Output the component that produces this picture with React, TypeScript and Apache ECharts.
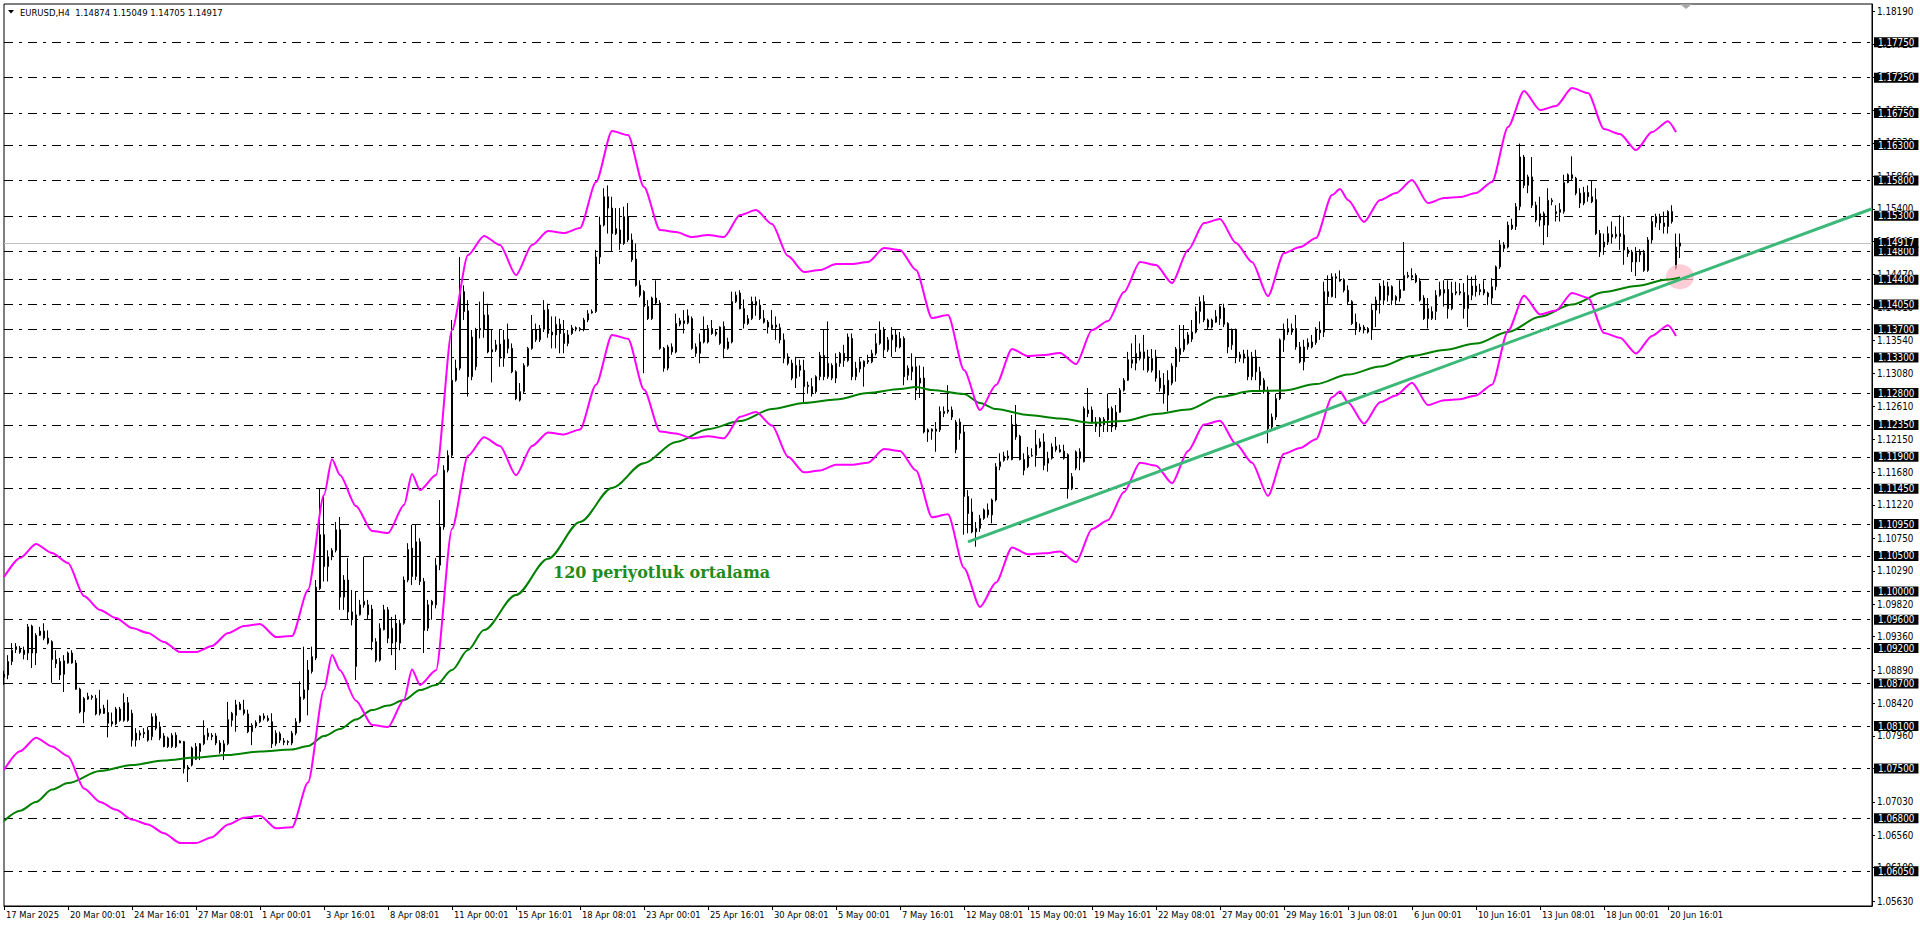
import React, { useEffect, useRef } from "react";
import * as echarts from "echarts";

// ---------- DATA ----------
// H4 candles, each [open, close, low, high], first bar = 17 Mar 2025 08:01
const candles: number[][] = [
  [1.0883,1.0879,1.0868,1.0888],[1.0882,1.0901,1.0876,1.0910],[1.0901,1.0917,1.0896,1.0927],[1.0918,1.0922,1.0913,1.0927],
  [1.0920,1.0914,1.0912,1.0923],[1.0917,1.0911,1.0904,1.0922],[1.0913,1.0950,1.0903,1.0954],[1.0951,1.0913,1.0892,1.0953],[1.0913,1.0938,1.0896,1.0941],[1.0938,1.0944,1.0937,1.0950],
  [1.0944,1.0934,1.0931,1.0955],[1.0934,1.0927,1.0925,1.0945],[1.0929,1.0904,1.0871,1.0931],[1.0904,1.0898,1.0892,1.0917],[1.0901,1.0882,1.0875,1.0906],[1.0883,1.0902,1.0858,1.0910],
  [1.0899,1.0913,1.0898,1.0915],[1.0913,1.0899,1.0898,1.0917],[1.0899,1.0862,1.0861,1.0903],[1.0862,1.0830,1.0828,1.0864],[1.0830,1.0849,1.0814,1.0851],[1.0848,1.0852,1.0847,1.0857],
  [1.0850,1.0852,1.0847,1.0854],[1.0849,1.0827,1.0825,1.0854],[1.0828,1.0834,1.0825,1.0861],[1.0835,1.0828,1.0827,1.0840],[1.0829,1.0814,1.0794,1.0847],[1.0816,1.0813,1.0809,1.0829],
  [1.0813,1.0834,1.0811,1.0837],[1.0834,1.0818,1.0816,1.0837],[1.0818,1.0843,1.0816,1.0856],[1.0843,1.0818,1.0816,1.0851],[1.0828,1.0790,1.0781,1.0833],[1.0790,1.0800,1.0781,1.0807],
  [1.0797,1.0800,1.0790,1.0804],[1.0801,1.0799,1.0793,1.0807],[1.0804,1.0790,1.0788,1.0809],[1.0795,1.0823,1.0790,1.0828],[1.0824,1.0807,1.0804,1.0828],[1.0809,1.0793,1.0790,1.0816],
  [1.0796,1.0781,1.0780,1.0800],[1.0793,1.0781,1.0779,1.0795],[1.0781,1.0797,1.0779,1.0800],[1.0797,1.0781,1.0779,1.0801],[1.0789,1.0786,1.0786,1.0790],[1.0788,1.0750,1.0743,1.0789],
  [1.0752,1.0749,1.0731,1.0755],[1.0755,1.0779,1.0753,1.0781],[1.0763,1.0781,1.0762,1.0786],[1.0774,1.0785,1.0762,1.0786],[1.0785,1.0797,1.0783,1.0818],[1.0795,1.0800,1.0790,1.0807],
  [1.0797,1.0795,1.0790,1.0800],[1.0796,1.0786,1.0783,1.0800],[1.0786,1.0774,1.0771,1.0790],[1.0774,1.0785,1.0762,1.0790],[1.0785,1.0819,1.0783,1.0844],[1.0818,1.0828,1.0809,1.0830],
  [1.0825,1.0840,1.0802,1.0847],[1.0833,1.0841,1.0833,1.0844],[1.0833,1.0828,1.0825,1.0847],[1.0827,1.0802,1.0800,1.0833],[1.0802,1.0811,1.0783,1.0814],[1.0810,1.0815,1.0807,1.0818],
  [1.0816,1.0824,1.0814,1.0825],[1.0824,1.0821,1.0818,1.0828],[1.0821,1.0818,1.0816,1.0825],[1.0816,1.0785,1.0779,1.0828],[1.0785,1.0800,1.0782,1.0804],[1.0799,1.0790,1.0786,1.0802],
  [1.0789,1.0787,1.0783,1.0793],[1.0788,1.0787,1.0783,1.0790],[1.0786,1.0800,1.0783,1.0803],[1.0800,1.0816,1.0797,1.0821],[1.0816,1.0851,1.0814,1.0873],[1.0849,1.0861,1.0847,1.0922],
  [1.0861,1.0889,1.0825,1.0903],[1.0887,1.0908,1.0884,1.0922],[1.0906,1.1006,1.0903,1.1016],[1.1004,1.1080,1.1002,1.1145],[1.1080,1.1035,1.1014,1.1134],[1.1035,1.1049,1.1014,1.1058],
  [1.1049,1.1058,1.1044,1.1061],[1.1058,1.1087,1.1055,1.1098],[1.1087,1.0992,1.0974,1.1105],[1.0992,1.1016,1.0974,1.1023],[1.1016,1.0971,1.0960,1.1047],[1.0971,1.0960,1.0952,1.1002],
  [1.0894,1.0967,1.0875,1.1000],[1.0967,1.0981,1.0966,1.0988],[1.0981,1.0986,1.0977,1.1049],[1.0981,1.0967,1.0960,1.0988],[1.0975,1.0929,1.0917,1.0981],[1.0929,1.0903,1.0900,1.0934],
  [1.0903,1.0948,1.0901,1.0955],[1.0946,1.0974,1.0945,1.0981],[1.0974,1.0934,1.0927,1.0978],[1.0927,1.0948,1.0910,1.0964],[1.0955,1.0929,1.0889,1.0967],[1.0927,1.0955,1.0917,1.0960],
  [1.0955,1.1016,1.0953,1.1021],[1.1016,1.1059,1.1013,1.1068],[1.1061,1.1021,1.1009,1.1094],[1.1021,1.1070,1.1016,1.1094],[1.1070,1.1014,1.1009,1.1075],[1.1014,1.0945,1.0913,1.1019],
  [1.0948,1.0981,1.0944,1.0988],[1.0981,1.0986,1.0960,1.0988],[1.0981,1.1037,1.0976,1.1047],[1.1037,1.1091,1.1030,1.1129],[1.1091,1.1171,1.1087,1.1178],[1.1171,1.1192,1.1168,1.1199],
  [1.1192,1.1298,1.1189,1.1383],[1.1298,1.1315,1.1296,1.1327],[1.1315,1.1423,1.1312,1.1472],[1.1423,1.1395,1.1383,1.1432],[1.1396,1.1303,1.1275,1.1411],[1.1303,1.1359,1.1298,1.1369],
  [1.1317,1.1369,1.1312,1.1372],[1.1369,1.1371,1.1357,1.1409],[1.1370,1.1390,1.1358,1.1423],[1.1390,1.1338,1.1336,1.1406],[1.1341,1.1338,1.1295,1.1369],[1.1341,1.1348,1.1338,1.1355],
  [1.1349,1.1329,1.1317,1.1369],[1.1329,1.1355,1.1317,1.1369],[1.1356,1.1343,1.1336,1.1378],[1.1343,1.1310,1.1308,1.1350],[1.1310,1.1272,1.1270,1.1312],[1.1270,1.1282,1.1268,1.1294],
  [1.1282,1.1319,1.1279,1.1322],[1.1319,1.1343,1.1317,1.1345],[1.1343,1.1369,1.1341,1.1390],[1.1369,1.1355,1.1352,1.1378],[1.1355,1.1371,1.1352,1.1376],[1.1370,1.1397,1.1366,1.1411],
  [1.1398,1.1364,1.1358,1.1406],[1.1366,1.1362,1.1343,1.1388],[1.1362,1.1377,1.1343,1.1388],[1.1377,1.1364,1.1336,1.1385],[1.1364,1.1350,1.1336,1.1383],[1.1350,1.1362,1.1346,1.1369],
  [1.1364,1.1372,1.1362,1.1376],[1.1372,1.1370,1.1367,1.1374],[1.1370,1.1371,1.1367,1.1373],[1.1370,1.1383,1.1367,1.1386],[1.1383,1.1392,1.1380,1.1397],[1.1393,1.1395,1.1392,1.1398],
  [1.1395,1.1472,1.1393,1.1482],[1.1472,1.1517,1.1462,1.1529],[1.1517,1.1557,1.1515,1.1569],[1.1557,1.1541,1.1505,1.1573],[1.1541,1.1505,1.1479,1.1557],[1.1505,1.1512,1.1503,1.1541],
  [1.1510,1.1491,1.1482,1.1541],[1.1491,1.1529,1.1489,1.1543],[1.1529,1.1496,1.1493,1.1548],[1.1496,1.1468,1.1465,1.1505],[1.1469,1.1432,1.1430,1.1491],[1.1432,1.1418,1.1415,1.1439],
  [1.1423,1.1402,1.1308,1.1425],[1.1402,1.1385,1.1383,1.1411],[1.1385,1.1414,1.1383,1.1416],[1.1414,1.1407,1.1404,1.1439],[1.1407,1.1343,1.1341,1.1411],[1.1343,1.1315,1.1310,1.1345],
  [1.1315,1.1345,1.1312,1.1348],[1.1345,1.1338,1.1334,1.1350],[1.1338,1.1378,1.1336,1.1392],[1.1377,1.1382,1.1374,1.1386],[1.1378,1.1382,1.1364,1.1397],[1.1379,1.1389,1.1377,1.1398],
  [1.1385,1.1343,1.1341,1.1388],[1.1345,1.1336,1.1331,1.1350],[1.1336,1.1352,1.1322,1.1364],[1.1352,1.1369,1.1350,1.1388],[1.1352,1.1371,1.1350,1.1376],[1.1371,1.1364,1.1362,1.1383],
  [1.1366,1.1363,1.1360,1.1369],[1.1350,1.1373,1.1348,1.1374],[1.1374,1.1343,1.1329,1.1381],[1.1343,1.1352,1.1341,1.1358],[1.1352,1.1409,1.1350,1.1423],[1.1409,1.1418,1.1407,1.1423],
  [1.1421,1.1399,1.1398,1.1425],[1.1399,1.1378,1.1371,1.1412],[1.1378,1.1385,1.1376,1.1390],[1.1385,1.1409,1.1383,1.1416],[1.1409,1.1404,1.1389,1.1416],[1.1404,1.1385,1.1383,1.1412],
  [1.1385,1.1380,1.1378,1.1397],[1.1380,1.1373,1.1364,1.1383],[1.1371,1.1376,1.1369,1.1397],[1.1376,1.1373,1.1355,1.1388],[1.1372,1.1355,1.1350,1.1378],[1.1355,1.1329,1.1322,1.1364],
  [1.1331,1.1322,1.1319,1.1336],[1.1322,1.1301,1.1298,1.1327],[1.1301,1.1319,1.1287,1.1331],[1.1312,1.1319,1.1303,1.1327],[1.1312,1.1289,1.1265,1.1327],[1.1289,1.1291,1.1279,1.1296],
  [1.1289,1.1279,1.1275,1.1301],[1.1282,1.1303,1.1279,1.1305],[1.1303,1.1333,1.1298,1.1338],[1.1333,1.1303,1.1298,1.1369],[1.1303,1.1322,1.1300,1.1381],[1.1319,1.1301,1.1298,1.1322],
  [1.1301,1.1322,1.1294,1.1336],[1.1322,1.1336,1.1317,1.1338],[1.1336,1.1326,1.1317,1.1348],[1.1326,1.1359,1.1324,1.1364],[1.1357,1.1303,1.1298,1.1364],[1.1303,1.1315,1.1298,1.1324],
  [1.1314,1.1324,1.1309,1.1329],[1.1317,1.1325,1.1289,1.1326],[1.1326,1.1324,1.1321,1.1334],[1.1324,1.1336,1.1322,1.1341],[1.1336,1.1350,1.1333,1.1364],[1.1350,1.1369,1.1348,1.1381],
  [1.1369,1.1341,1.1331,1.1373],[1.1341,1.1355,1.1338,1.1359],[1.1355,1.1362,1.1331,1.1373],[1.1362,1.1345,1.1338,1.1369],[1.1345,1.1357,1.1343,1.1366],[1.1357,1.1303,1.1291,1.1360],
  [1.1305,1.1315,1.1298,1.1319],[1.1310,1.1317,1.1298,1.1336],[1.1317,1.1284,1.1270,1.1331],[1.1294,1.1301,1.1273,1.1319],[1.1301,1.1225,1.1223,1.1317],[1.1228,1.1225,1.1211,1.1230],
  [1.1226,1.1229,1.1214,1.1230],[1.1226,1.1229,1.1197,1.1239],[1.1228,1.1254,1.1225,1.1261],[1.1251,1.1254,1.1246,1.1261],[1.1256,1.1254,1.1251,1.1291],[1.1256,1.1246,1.1242,1.1261],
  [1.1200,1.1239,1.1195,1.1242],[1.1223,1.1239,1.1214,1.1244],[1.1225,1.1134,1.1080,1.1235],[1.1134,1.1110,1.1082,1.1143],[1.1112,1.1084,1.1082,1.1131],[1.1084,1.1089,1.1063,1.1098],
  [1.1089,1.1103,1.1084,1.1108],[1.1103,1.1115,1.1101,1.1117],[1.1115,1.1108,1.1104,1.1124],[1.1108,1.1129,1.1096,1.1131],[1.1129,1.1176,1.1127,1.1181],[1.1176,1.1183,1.1171,1.1195],
  [1.1185,1.1191,1.1183,1.1197],[1.1188,1.1191,1.1185,1.1199],[1.1186,1.1236,1.1185,1.1249],[1.1236,1.1218,1.1214,1.1263],[1.1219,1.1186,1.1185,1.1221],[1.1186,1.1171,1.1164,1.1195],
  [1.1176,1.1192,1.1174,1.1204],[1.1191,1.1192,1.1190,1.1202],[1.1192,1.1207,1.1176,1.1228],[1.1204,1.1211,1.1202,1.1216],[1.1211,1.1178,1.1171,1.1223],[1.1181,1.1188,1.1169,1.1197],
  [1.1188,1.1204,1.1186,1.1209],[1.1205,1.1200,1.1197,1.1218],[1.1200,1.1197,1.1196,1.1207],[1.1198,1.1188,1.1186,1.1207],[1.1193,1.1145,1.1131,1.1195],[1.1145,1.1162,1.1143,1.1167],
  [1.1174,1.1197,1.1171,1.1199],[1.1197,1.1188,1.1171,1.1202],[1.1183,1.1258,1.1182,1.1261],[1.1251,1.1256,1.1246,1.1287],[1.1256,1.1239,1.1237,1.1261],[1.1233,1.1239,1.1225,1.1246],
  [1.1233,1.1244,1.1218,1.1246],[1.1235,1.1243,1.1225,1.1246],[1.1242,1.1258,1.1225,1.1279],[1.1258,1.1232,1.1225,1.1261],[1.1232,1.1253,1.1228,1.1263],[1.1253,1.1284,1.1252,1.1287],
  [1.1284,1.1298,1.1282,1.1301],[1.1298,1.1327,1.1297,1.1338],[1.1327,1.1322,1.1315,1.1350],[1.1322,1.1336,1.1312,1.1362],[1.1329,1.1338,1.1326,1.1350],[1.1338,1.1329,1.1312,1.1362],
  [1.1331,1.1312,1.1309,1.1341],[1.1312,1.1329,1.1309,1.1342],[1.1331,1.1301,1.1296,1.1341],[1.1301,1.1287,1.1282,1.1312],[1.1291,1.1280,1.1265,1.1308],[1.1277,1.1298,1.1254,1.1312],
  [1.1294,1.1318,1.1291,1.1322],[1.1317,1.1342,1.1296,1.1345],[1.1334,1.1343,1.1324,1.1376],[1.1341,1.1356,1.1338,1.1376],[1.1350,1.1362,1.1348,1.1366],[1.1356,1.1366,1.1352,1.1383],
  [1.1366,1.1395,1.1364,1.1402],[1.1395,1.1409,1.1378,1.1416],[1.1409,1.1383,1.1380,1.1418],[1.1383,1.1373,1.1369,1.1385],[1.1373,1.1383,1.1371,1.1385],[1.1380,1.1388,1.1379,1.1397],
  [1.1385,1.1402,1.1376,1.1404],[1.1400,1.1377,1.1373,1.1406],[1.1378,1.1345,1.1336,1.1380],[1.1348,1.1369,1.1341,1.1371],[1.1369,1.1331,1.1322,1.1371],[1.1329,1.1334,1.1324,1.1338],
  [1.1335,1.1329,1.1322,1.1341],[1.1331,1.1303,1.1298,1.1341],[1.1303,1.1331,1.1298,1.1338],[1.1331,1.1310,1.1298,1.1341],[1.1310,1.1291,1.1284,1.1317],[1.1298,1.1284,1.1279,1.1301],
  [1.1284,1.1230,1.1209,1.1289],[1.1232,1.1246,1.1228,1.1251],[1.1246,1.1272,1.1242,1.1279],[1.1272,1.1355,1.1270,1.1357],[1.1355,1.1369,1.1338,1.1378],[1.1366,1.1371,1.1362,1.1385],
  [1.1366,1.1371,1.1362,1.1378],[1.1371,1.1345,1.1341,1.1390],[1.1345,1.1324,1.1322,1.1352],[1.1324,1.1345,1.1312,1.1355],[1.1345,1.1351,1.1341,1.1357],[1.1345,1.1352,1.1343,1.1362],
  [1.1351,1.1370,1.1348,1.1373],[1.1369,1.1365,1.1355,1.1381],[1.1366,1.1423,1.1359,1.1437],[1.1423,1.1416,1.1406,1.1446],[1.1416,1.1444,1.1415,1.1449],[1.1444,1.1442,1.1414,1.1449],
  [1.1438,1.1440,1.1437,1.1453],[1.1440,1.1425,1.1422,1.1442],[1.1425,1.1409,1.1404,1.1432],[1.1409,1.1378,1.1376,1.1411],[1.1380,1.1371,1.1362,1.1392],[1.1373,1.1369,1.1366,1.1378],
  [1.1373,1.1369,1.1364,1.1376],[1.1371,1.1366,1.1364,1.1373],[1.1369,1.1397,1.1355,1.1406],[1.1397,1.1411,1.1373,1.1416],[1.1411,1.1431,1.1392,1.1435],[1.1431,1.1411,1.1404,1.1439],
  [1.1418,1.1430,1.1409,1.1437],[1.1430,1.1411,1.1404,1.1432],[1.1411,1.1416,1.1404,1.1418],[1.1414,1.1426,1.1409,1.1439],[1.1425,1.1446,1.1424,1.1493],[1.1444,1.1446,1.1442,1.1451],
  [1.1443,1.1446,1.1439,1.1456],[1.1446,1.1437,1.1435,1.1449],[1.1438,1.1411,1.1409,1.1442],[1.1414,1.1385,1.1383,1.1418],[1.1385,1.1399,1.1371,1.1414],[1.1385,1.1395,1.1383,1.1402],
  [1.1395,1.1418,1.1383,1.1425],[1.1418,1.1426,1.1416,1.1437],[1.1421,1.1426,1.1402,1.1439],[1.1426,1.1399,1.1385,1.1439],[1.1399,1.1421,1.1397,1.1437],[1.1421,1.1423,1.1418,1.1437],
  [1.1423,1.1421,1.1418,1.1435],[1.1422,1.1399,1.1385,1.1435],[1.1399,1.1418,1.1373,1.1446],[1.1418,1.1431,1.1411,1.1444],[1.1431,1.1423,1.1416,1.1446],[1.1423,1.1426,1.1418,1.1434],
  [1.1426,1.1421,1.1418,1.1439],[1.1421,1.1416,1.1404,1.1423],[1.1414,1.1430,1.1405,1.1442],[1.1430,1.1458,1.1425,1.1460],[1.1458,1.1489,1.1455,1.1496],[1.1484,1.1489,1.1479,1.1493],
  [1.1486,1.1517,1.1484,1.1522],[1.1517,1.1512,1.1510,1.1526],[1.1515,1.1543,1.1510,1.1548],[1.1543,1.1613,1.1538,1.1632],[1.1613,1.1573,1.1569,1.1616],[1.1573,1.1585,1.1562,1.1588],
  [1.1585,1.1545,1.1541,1.1613],[1.1545,1.1524,1.1521,1.1550],[1.1524,1.1533,1.1515,1.1557],[1.1533,1.1517,1.1489,1.1536],[1.1517,1.1552,1.1500,1.1569],[1.1550,1.1552,1.1545,1.1555],
  [1.1533,1.1536,1.1522,1.1545],[1.1535,1.1539,1.1522,1.1548],[1.1536,1.1577,1.1533,1.1588],[1.1577,1.1588,1.1576,1.1590],[1.1588,1.1583,1.1580,1.1614],[1.1583,1.1562,1.1559,1.1585],
  [1.1562,1.1548,1.1541,1.1569],[1.1548,1.1563,1.1545,1.1571],[1.1563,1.1557,1.1550,1.1573],[1.1557,1.1550,1.1548,1.1580],[1.1553,1.1505,1.1503,1.1569],[1.1505,1.1479,1.1472,1.1510],
  [1.1486,1.1493,1.1475,1.1505],[1.1493,1.1505,1.1489,1.1515],[1.1500,1.1504,1.1491,1.1522],[1.1501,1.1504,1.1498,1.1515],[1.1505,1.1501,1.1482,1.1531],[1.1503,1.1482,1.1461,1.1529],
  [1.1482,1.1477,1.1472,1.1486],[1.1479,1.1465,1.1451,1.1482],[1.1465,1.1478,1.1445,1.1486],[1.1475,1.1479,1.1465,1.1483],[1.1478,1.1453,1.1451,1.1482],[1.1453,1.1496,1.1451,1.1500],
  [1.1496,1.1522,1.1491,1.1529],[1.1520,1.1529,1.1514,1.1533],[1.1528,1.1520,1.1510,1.1533],[1.1520,1.1515,1.1505,1.1536],[1.1515,1.1536,1.1505,1.1538],[1.1536,1.1522,1.1519,1.1545],
  [1.1456,1.1486,1.1454,1.1505],[1.14874,1.14917,1.14705,1.15049],
];

// Envelopes (magenta), [bar index, price]
const envUpper: number[][] = [
  [0,1.10202],[4,1.10471],[8,1.10668],[12,1.10541],[16,1.10400],[20,1.09934],[24,1.09737],[28,1.09624],[32,1.09483],[36,1.09412],[40,1.09285],[44,1.09144],[48,1.09144],[52,1.09229],[56,1.09412],[60,1.09511],[64,1.09539],[68,1.09356],[72,1.09370],[76,1.10019],[80,1.11360],[82,1.11865],[84,1.11642],[88,1.11204],[92,1.10852],[96,1.10823],[100,1.11218],[102,1.11656],[104,1.11430],[108,1.11642],[112,1.13688],[116,1.14746],[120,1.15015],[124,1.14888],[128,1.14464],[132,1.14888],[136,1.15085],[140,1.15057],[144,1.15127],[148,1.15777],[152,1.16496],[156,1.16440],[160,1.15706],[164,1.15099],[168,1.15071],[172,1.15000],[176,1.15029],[180,1.15000],[184,1.15311],[188,1.15381],[192,1.15184],[196,1.14732],[200,1.14507],[204,1.14535],[208,1.14619],[212,1.14619],[216,1.14648],[220,1.14845],[224,1.14817],[228,1.14535],[232,1.13857],[236,1.13900],[240,1.13124],[244,1.12559],[248,1.12912],[252,1.13420],[256,1.13321],[260,1.13335],[264,1.13363],[268,1.13208],[272,1.13688],[276,1.13815],[280,1.14224],[284,1.14648],[288,1.14605],[292,1.14351],[296,1.14817],[300,1.15198],[304,1.15254],[308,1.14916],[312,1.14648],[316,1.14168],[320,1.14775],[324,1.14859],[328,1.14986],[332,1.15593],[334,1.15678],[336,1.15523],[340,1.15212],[344,1.15523],[348,1.15621],[352,1.15805],[356,1.15480],[360,1.15551],[364,1.15565],[368,1.15621],[372,1.15777],[376,1.16553],[380,1.17061],[384,1.16793],[388,1.16849],[392,1.17103],[396,1.17033],[400,1.16525],[404,1.16454],[408,1.16228],[412,1.16482],[416,1.16637],[418,1.16482],
];
const envLower: number[][] = [
  [0,1.07481],[4,1.07743],[8,1.07936],[12,1.07812],[16,1.07674],[20,1.07220],[24,1.07028],[28,1.06917],[32,1.06780],[36,1.06711],[40,1.06587],[44,1.06449],[48,1.06449],[52,1.06532],[56,1.06711],[60,1.06807],[64,1.06834],[68,1.06656],[72,1.06670],[76,1.07303],[80,1.08611],[82,1.09103],[84,1.08886],[88,1.08458],[92,1.08115],[96,1.08087],[100,1.08472],[102,1.08899],[104,1.08679],[108,1.08886],[112,1.10881],[116,1.11913],[120,1.12175],[124,1.12051],[128,1.11638],[132,1.12051],[136,1.12244],[140,1.12216],[144,1.12285],[148,1.12918],[152,1.13620],[156,1.13565],[160,1.12849],[164,1.12257],[168,1.12230],[172,1.12161],[176,1.12189],[180,1.12161],[184,1.12464],[188,1.12532],[192,1.12340],[196,1.11899],[200,1.11680],[204,1.11707],[208,1.11789],[212,1.11789],[216,1.11817],[220,1.12010],[224,1.11982],[228,1.11707],[232,1.11046],[236,1.11088],[240,1.10331],[244,1.09780],[248,1.10124],[252,1.10620],[256,1.10523],[260,1.10537],[264,1.10564],[268,1.10413],[272,1.10881],[276,1.11005],[280,1.11404],[284,1.11817],[288,1.11775],[292,1.11528],[296,1.11982],[300,1.12354],[304,1.12408],[308,1.12079],[312,1.11817],[316,1.11349],[320,1.11941],[324,1.12023],[328,1.12147],[332,1.12739],[334,1.12822],[336,1.12671],[340,1.12367],[344,1.12671],[348,1.12766],[352,1.12946],[356,1.12629],[360,1.12698],[364,1.12712],[368,1.12766],[372,1.12918],[376,1.13675],[380,1.14171],[384,1.13909],[388,1.13964],[392,1.14212],[396,1.14143],[400,1.13648],[404,1.13579],[408,1.13358],[412,1.13606],[416,1.13757],[418,1.13606],
];

// 120-period moving average (dark green), [bar index, price]
const ma120: number[][] = [
  [0,1.06759],[4,1.06904],[8,1.07027],[12,1.07204],[16,1.07295],[24,1.07465],[32,1.07549],[40,1.07613],[48,1.07655],[56,1.07690],[64,1.07740],[72,1.07768],[76,1.07817],[80,1.07959],[84,1.08057],[88,1.08191],[92,1.08325],[96,1.08389],[100,1.08467],[104,1.08608],[108,1.08678],[112,1.08890],[116,1.09172],[120,1.09454],[128,1.09950],[136,1.10460],[144,1.10980],[152,1.11460],[160,1.11810],[168,1.12110],[176,1.12290],[184,1.12404],[192,1.12573],[200,1.12658],[208,1.12707],[216,1.12799],[224,1.12855],[228,1.12884],[232,1.12841],[240,1.12785],[244,1.12658],[248,1.12573],[256,1.12489],[264,1.12439],[272,1.12380],[280,1.12404],[288,1.12503],[296,1.12566],[304,1.12747],[312,1.12827],[320,1.12834],[328,1.12926],[336,1.13060],[344,1.13173],[352,1.13321],[360,1.13406],[368,1.13498],[376,1.13660],[384,1.13876],[392,1.14048],[400,1.14224],[408,1.14309],[416,1.14401],[419,1.14432],
];

const trendLine: number[][] = [[241, 1.1070], [467, 1.1540]];
const touchPoint: number[] = [419, 1.1444];

const levelLines: number[] = [
  1.17750, 1.17250, 1.16750, 1.16300, 1.15800, 1.15300, 1.14800, 1.14400, 1.14050, 1.13700,
  1.13300, 1.12800, 1.12350, 1.11900, 1.11450, 1.10950, 1.10500, 1.10000, 1.09600, 1.09200,
  1.08700, 1.08100, 1.07500, 1.06800, 1.06050,
];
const lastPrice = 1.14917;

const priceTicks: number[] = [
  1.18190, 1.17720, 1.17260, 1.16790, 1.16330, 1.15860, 1.15400, 1.14940, 1.14470, 1.14010,
  1.13540, 1.13080, 1.12610, 1.12150, 1.11680, 1.11220, 1.10750, 1.10290, 1.09820, 1.09360,
  1.08890, 1.08420, 1.07960, 1.07500, 1.07030, 1.06560, 1.06100, 1.05630,
];

const xTickLabels: string[] = [
  "17 Mar 2025", "20 Mar 00:01", "24 Mar 16:01", "27 Mar 08:01", "1 Apr 00:01", "3 Apr 16:01",
  "8 Apr 08:01", "11 Apr 00:01", "15 Apr 16:01", "18 Apr 08:01", "23 Apr 00:01", "25 Apr 16:01",
  "30 Apr 08:01", "5 May 00:01", "7 May 16:01", "12 May 08:01", "15 May 00:01", "19 May 16:01",
  "22 May 08:01", "27 May 00:01", "29 May 16:01", "3 Jun 08:01", "6 Jun 00:01", "10 Jun 16:01",
  "13 Jun 08:01", "18 Jun 00:01", "20 Jun 16:01",
];
const LABEL_STEP = 16;
const TOTAL_SLOTS = 468; // bars + right-hand chart shift

const headerText = "EURUSD,H4  1.14874 1.15049 1.14705 1.14917";
const annotationText = "120 periyotluk ortalama";

// ---------- helpers ----------
function buildCategories(n: number): string[] {
  const months = ["Jan", "Feb", "Mar", "Apr", "May", "Jun", "Jul", "Aug"];
  const out: string[] = [];
  let t = Date.UTC(2025, 2, 17);
  let slot = 2;
  while (out.length < n) {
    const d = new Date(t);
    const dow = d.getUTCDay();
    if (dow >= 1 && dow <= 5) {
      for (; slot < 6 && out.length < n; slot++) {
        const h = String(slot * 4).padStart(2, "0");
        out.push(`${d.getUTCDate()} ${months[d.getUTCMonth()]} ${h}:01`);
      }
      slot = 0;
    }
    t += 86400000;
  }
  return out;
}

const FONT = '"Liberation Sans Narrow", "Arial Narrow", "DejaVu Sans Condensed", "Liberation Sans", sans-serif';

export default function App() {
  const ref = useRef<HTMLDivElement | null>(null);

  useEffect(() => {
    document.body.style.margin = "0";
    if (!ref.current) return;
    const chart = echarts.init(ref.current, undefined, { renderer: "svg" });
    const categories = buildCategories(TOTAL_SLOTS);
    const tickInterval = (i: number) => i % LABEL_STEP === 0 && i / LABEL_STEP < xTickLabels.length;

    const option: any = {
      animation: false,
      backgroundColor: "#ffffff",
      grid: {
        left: 4, right: 48, top: 4, bottom: 21,
        show: true, borderColor: "#000", borderWidth: 1, backgroundColor: "transparent",
      },
      xAxis: {
        type: "category",
        data: categories,
        boundaryGap: false,
        axisLine: { show: true, lineStyle: { color: "#000", width: 1 } },
        axisTick: { show: true, interval: tickInterval, length: 4, lineStyle: { color: "#000" } },
        axisLabel: {
          interval: tickInterval,
          formatter: (_v: string, i: number) => xTickLabels[i / LABEL_STEP] ?? "",
          align: "left",
          color: "#000",
          fontFamily: FONT,
          fontSize: 9.3,
          margin: 4,
          padding: [0, 0, 0, 2],
        },
        splitLine: { show: false },
      },
      yAxis: {
        type: "value",
        position: "right",
        min: 1.0556,
        max: 1.1829,
        scale: true,
        axisLine: { show: true, lineStyle: { color: "#000", width: 1 } },
        axisTick: { show: true, length: 3, customValues: priceTicks, lineStyle: { color: "#000" } },
        axisLabel: {
          customValues: priceTicks,
          formatter: (v: number) => v.toFixed(5),
          color: "#000",
          fontFamily: FONT,
          fontSize: 9.8,
          margin: 5,
          showMinLabel: true,
          showMaxLabel: true,
        },
        splitLine: { show: false },
      },
      series: [
        {
          type: "candlestick",
          name: "EURUSD",
          data: candles,
          barWidth: 2,
          z: 3,
          itemStyle: {
            color: "#ffffff",
            color0: "#000000",
            borderColor: "#000000",
            borderColor0: "#000000",
            borderWidth: 1,
          },
          markLine: {
            silent: true,
            symbol: ["none", "none"],
            precision: 5,
            animation: false,
            z: 2,
            lineStyle: { color: "#000", width: 1, type: [9, 6, 3, 6], opacity: 1 },
            label: {
              show: true,
              position: "end",
              distance: 2,
              formatter: (p: any) => Number(p.value).toFixed(5),
              color: "#fff",
              backgroundColor: "#000",
              padding: [0, 4, 0, 4],
              lineHeight: 10,
              fontFamily: FONT,
              fontSize: 9.8,
            },
            emphasis: { disabled: true },
            data: [
              ...levelLines.map((v) => ({ yAxis: v })),
              { yAxis: lastPrice, lineStyle: { color: "#c0c0c0", type: "solid", width: 1 } },
            ],
          },
        },
        {
          type: "scatter",
          data: [touchPoint],
          symbol: "circle",
          symbolSize: [28, 25],
          itemStyle: { color: "rgba(255,186,198,0.9)" },
          z: 4,
          silent: true,
        },
        {
          type: "line",
          name: "MA120",
          data: ma120,
          symbol: "none",
          smooth: 0.3,
          smoothMonotone: "x",
          lineStyle: { color: "#008000", width: 2 },
          z: 5,
          silent: true,
        },
        {
          type: "line",
          name: "EnvUpper",
          data: envUpper,
          symbol: "none",
          smooth: 0.25,
          smoothMonotone: "x",
          lineStyle: { color: "#ff00ff", width: 2 },
          z: 5,
          silent: true,
        },
        {
          type: "line",
          name: "EnvLower",
          data: envLower,
          symbol: "none",
          smooth: 0.25,
          smoothMonotone: "x",
          lineStyle: { color: "#ff00ff", width: 2 },
          z: 5,
          silent: true,
        },
        {
          type: "line",
          name: "Trend",
          data: trendLine,
          symbol: "none",
          lineStyle: { color: "#3cb878", width: 3 },
          z: 6,
          silent: true,
        },
      ],
      graphic: [
        {
          type: "polygon",
          shape: { points: [[8, 10], [14, 10], [11, 13.5]] },
          style: { fill: "#000" },
          z: 100,
        },
        {
          type: "text",
          x: 20,
          y: 12,
          style: { text: headerText, fill: "#000", fontFamily: FONT, fontSize: 9.4, verticalAlign: "middle" },
          z: 100,
        },
        {
          type: "polygon",
          shape: { points: [[1680, 4], [1692, 4], [1686, 9]] },
          style: { fill: "#a8a8a8" },
          z: 100,
        },
        {
          type: "text",
          x: 553,
          y: 572,
          style: {
            text: annotationText,
            fill: "#1e8c1e",
            fontFamily: '"DejaVu Serif", "Liberation Serif", serif',
            fontWeight: "bold",
            fontSize: 16,
            verticalAlign: "middle",
          },
          z: 100,
        },
      ],
    };

    chart.setOption(option);
    return () => chart.dispose();
  }, []);

  return <div ref={ref} style={{ width: 1920, height: 927 }} />;
}
